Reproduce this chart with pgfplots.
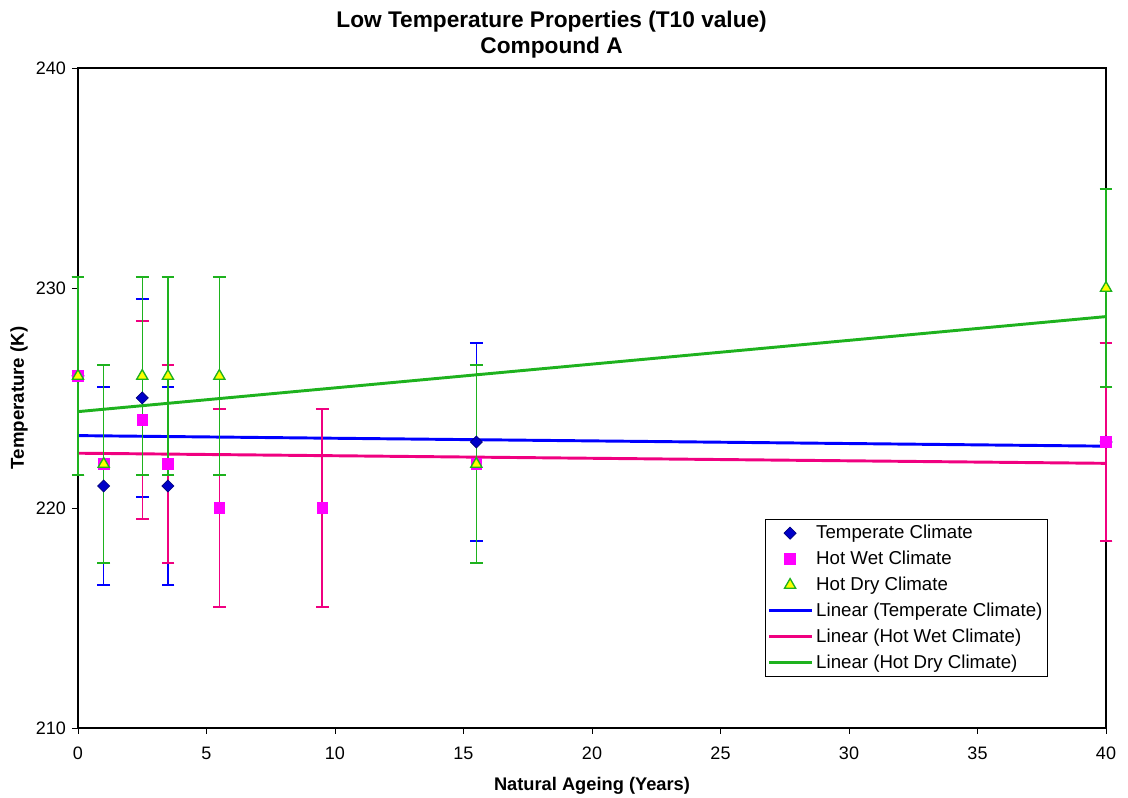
\documentclass[border=0pt]{standalone}
\usepackage{pgfplots}
\pgfplotsset{compat=1.18}
\usepackage{fontspec}
\setmainfont{Liberation Sans}
\definecolor{tblue}{RGB}{0,0,255}
\definecolor{tmark}{RGB}{0,0,200}
\definecolor{wetmark}{RGB}{255,0,255}
\definecolor{wetline}{RGB}{240,0,128}
\definecolor{dryline}{RGB}{30,178,30}
\definecolor{dryfill}{RGB}{255,255,0}

\pgfplotstableread{
x y e
0 226 4.5
1 221 4.5
2.5 225 4.5
3.5 221 4.5
15.5 223 4.5
40 223 4.5
}\temperate
\pgfplotstableread{
x y e
0 226 4.5
1 222 4.5
2.5 224 4.5
3.5 222 4.5
5.5 220 4.5
9.5 220 4.5
15.5 222 4.5
40 223 4.5
}\hotwet
\pgfplotstableread{
x y e
0 226 4.5
1 222 4.5
2.5 226 4.5
3.5 226 4.5
5.5 226 4.5
15.5 222 4.5
40 230 4.5
}\hotdry

\begin{document}
\begin{tikzpicture}
\begin{axis}[
  scale only axis, width=771pt, height=495pt,
  xmin=0, xmax=40, ymin=210, ymax=240,
  xtick={0,5,...,40}, ytick={210,220,230,240},
  tick align=outside, tick pos=left, major tick length=4.5pt,
  tick style={black, line width=0.7pt},
  axis line style={line width=1pt},
  /pgf/number format/assume math mode=true,
  ticklabel style={font=\fontsize{13.5}{16}\selectfont},
  yticklabel style={xshift=-1pt},
  xticklabel style={yshift=-6pt},
  title={Low Temperature Properties (T10 value)\\Compound A},
  title style={at={(0.4607,1)}, anchor=south, inner sep=0pt, yshift=1pt, align=center,
    font=\fontsize{17}{20}\selectfont\bfseries},
  xlabel={Natural Ageing (Years)},
  xlabel style={at={(axis description cs:0.5,0)}, anchor=north, inner sep=0pt, yshift=-36.5pt,
    font=\fontsize{13.7}{16}\selectfont\bfseries},
  ylabel={Temperature (K)},
  ylabel style={at={(axis description cs:-0.0487,0.5)}, anchor=south, inner sep=0pt,
    font=\fontsize{14}{16}\selectfont\bfseries},
  legend style={at={(0.668,0.3167)}, anchor=north west, draw=black, line width=0.6pt,
    font=\fontsize{14}{16}\selectfont, row sep=3.8pt, inner xsep=2pt, inner ysep=2.5pt},
  legend cell align=left,
  legend image code/.code={\draw[#1, draw=none] plot coordinates {(0.55cm,0cm)};},
  clip=false,
]
% trend lines (drawn first)
\addplot[forget plot, tblue, line width=2.2pt] coordinates {(0,223.29) (40,222.81)};
\addplot[forget plot, wetline, line width=2.2pt] coordinates {(0,222.49) (40,222.03)};
\addplot[forget plot, dryline, line width=2.2pt] coordinates {(0,224.38) (40,228.70)};

\addplot[only marks, mark=square*, mark size=3.2pt,
  mark options={rotate=45, fill=tmark, draw=tmark!60!black, line width=0.5pt},
  error bars/.cd, y dir=both, y explicit,
  error bar style={tblue, line width=1pt},
  error mark options={tblue, mark size=4.8pt, line width=1pt, rotate=90}]
  table[x=x, y=y, y error=e] {\temperate};
\addlegendentry{Temperate Climate}

\addplot[only marks, mark=square*, mark size=4pt,
  mark options={fill=wetmark, draw=wetmark},
  error bars/.cd, y dir=both, y explicit,
  error bar style={wetline, line width=1pt},
  error mark options={wetline, mark size=4.8pt, line width=1pt, rotate=90}]
  table[x=x, y=y, y error=e] {\hotwet};
\addlegendentry{Hot Wet Climate}

\addplot[only marks, mark=triangle*, mark size=4.8pt,
  mark options={fill=dryfill, draw=dryline, line width=1pt},
  error bars/.cd, y dir=both, y explicit,
  error bar style={dryline, line width=1pt},
  error mark options={dryline, mark size=4.8pt, line width=1pt, rotate=90}]
  table[x=x, y=y, y error=e] {\hotdry};
\addlegendentry{Hot Dry Climate}

\addlegendimage{legend image code/.code={\draw[tblue, line width=2.2pt] (0cm,0cm) -- (1.13cm,0cm);}}
\addlegendentry{Linear (Temperate Climate)}
\addlegendimage{legend image code/.code={\draw[wetline, line width=2.2pt] (0cm,0cm) -- (1.13cm,0cm);}}
\addlegendentry{Linear (Hot Wet Climate)}
\addlegendimage{legend image code/.code={\draw[dryline, line width=2.2pt] (0cm,0cm) -- (1.13cm,0cm);}}
\addlegendentry{Linear (Hot Dry Climate)}

\coordinate (sw) at (rel axis cs:0,0);
\coordinate (ne) at (rel axis cs:1,1);
\end{axis}
\path ([shift={(-58.5pt,-52.5pt)}]sw) rectangle ([shift={(16.5pt,51pt)}]ne);
\end{tikzpicture}
\end{document}
